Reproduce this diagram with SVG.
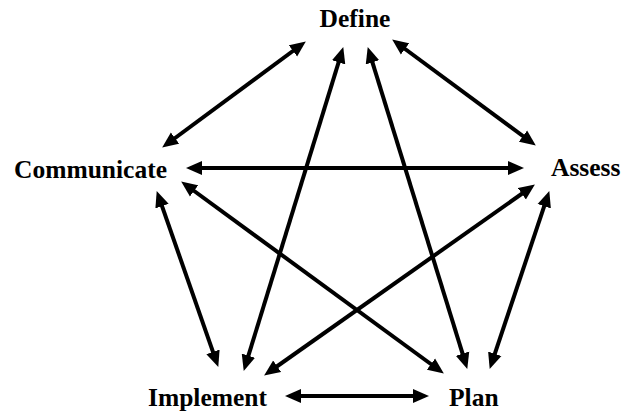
<svg xmlns="http://www.w3.org/2000/svg" width="622" height="413" viewBox="0 0 622 413">
<style>
.lbl{font-family:"Liberation Serif","Times New Roman",serif;font-weight:bold;font-size:25.5px;fill:#000}
.c line{stroke:#000;stroke-width:4;fill:none;marker-start:url(#ah);marker-end:url(#ah)}
</style>
<defs>
<marker id="ah" markerUnits="userSpaceOnUse" markerWidth="17" markerHeight="15" refX="10" refY="7" orient="auto-start-reverse" viewBox="0 0 17 14">
<path d="M0,0 L16,7 L0,14 z" fill="#000"/>
</marker>
</defs>
<rect width="622" height="413" fill="#fff"/>
<g id="connectors" class="c">
<line x1="301" y1="45" x2="167" y2="144"/>
<line x1="341.5" y1="52.8" x2="245.5" y2="365.2"/>
<line x1="369.5" y1="52.8" x2="465.5" y2="363.2"/>
<line x1="397" y1="43" x2="531" y2="142"/>
<line x1="192" y1="168" x2="518" y2="168"/>
<line x1="186" y1="185" x2="439" y2="370"/>
<line x1="158.7" y1="196.7" x2="216.3" y2="361.3"/>
<line x1="530" y1="188" x2="269" y2="372"/>
<line x1="547.4" y1="196.7" x2="491.6" y2="363.3"/>
<line x1="291" y1="396" x2="423" y2="396"/>
</g>
<g id="define"><text class="lbl" x="355" y="27" text-anchor="middle">Define</text></g>
<g id="communicate"><text class="lbl" x="14" y="178">Communicate</text></g>
<g id="assess"><text class="lbl" x="551" y="176">Assess</text></g>
<g id="implement"><text class="lbl" x="148" y="406">Implement</text></g>
<g id="plan"><text class="lbl" x="449" y="406">Plan</text></g>
</svg>
